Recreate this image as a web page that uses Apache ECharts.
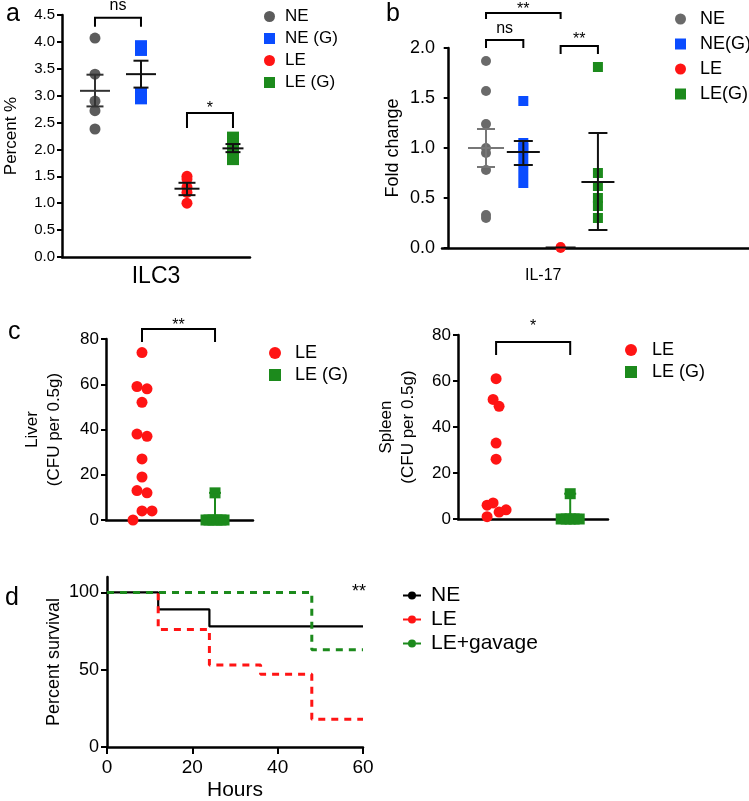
<!DOCTYPE html>
<html>
<head>
<meta charset="utf-8">
<script src="https://cdn.jsdelivr.net/npm/echarts@6/dist/echarts.min.js"></script>
<style>
  html, body { margin: 0; padding: 0; background: #fff; }
  #chart { width: 749px; height: 801px; }
</style>
</head>
<body>
<div id="chart"></div>
<script>
// ---- panel a: ILC3 (percent) ----
const ilcNE = [4.07, 3.4, 2.9, 2.72, 2.38]
const ilcNEG = [3.92, 3.85, 3.05, 2.95]
const ilcLE = [1.5, 1.45, 1.3, 1.2, 1.0]
const ilcLEG = [2.22, 2.1, 2.0, 1.95, 1.82]
const ilcMean = [3.09, 3.4, 1.27, 2.02]
const ilcLow = [2.8, 3.15, 1.15, 1.95]
const ilcHigh = [3.39, 3.65, 1.38, 2.1]
const ilcSig = [[1, 2, 4.45, 'ns'], [3, 4, 2.68, '*']]

// ---- panel b: IL-17 (fold change) ----
const il17NE = [1.87, 1.57, 1.24, 1.0, 0.95, 0.78, 0.33, 0.3]
const il17NEG = [1.47, 1.05, 1.0, 0.95, 0.85, 0.75, 0.65]
const il17LE = [0.01, 0.0]
const il17LEG = [1.81, 0.75, 0.62, 0.5, 0.42, 0.3]
const il17Mean = [1.0, 0.96, 0.005, 0.66]
const il17Low = [0.81, 0.83, 0.0, 0.18]
const il17High = [1.19, 1.07, 0.01, 1.15]
const il17Sig = [[1, 3, 2.35, '**'], [1, 2, 2.08, 'ns'], [3, 4, 2.02, '**']]

// ---- panel c: CFU per 0.5g ----
const liverLE = [74, 59, 58, 52, 38, 37, 27, 19, 13, 12, 4, 4, 0]
const liverLEG = [12, 0, 0, 0, 0, 0, 0]
const liverLEGMean = 1.7
const liverLEGHigh = 12
const liverSig = [[1, 2, 84.4, '**']]
const spleenLE = [61, 52, 49, 33, 26, 7, 6, 4, 3, 1]
const spleenLEG = [11, 0, 0, 0, 0, 0]
const spleenLEGMean = 1.8
const spleenLEGHigh = 11
const spleenSig = [[1, 2, 77, '*']]

// ---- panel d: survival ----
const hoursNE = [0, 12, 24, 60]
const survNE = [100, 89, 78, 78]
const hoursLE = [0, 12, 24, 36, 48, 60]
const survLE = [100, 76, 53, 47, 18, 18]
const hoursGav = [0, 48, 60]
const survGav = [100, 63, 63]

// jitter of dots (px), only layout
const liverJit = [0, -5, 5, 0, -5, 5, 0, 0, -5, 5, 0, 10, -9]
const liverGJit = [0, -9, -6, -2, 2, 6, 9]
const spleenJit = [0, -3, 3, 0, 0, -3, -9, 10, 3, -9]
const spleenGJit = [0, -9, -4, 0, 4, 9]

const font = 'Liberation Sans, Arial, Helvetica, sans-serif'
const grey = '#5c5c5c'
const blue = '#0a4cff'
const red = '#ff1414'
const green = '#1c8a1c'

const grids = [
  { left: 62, top: 15, width: 188, height: 242, outerBoundsMode: 'none' },
  { left: 442, top: 48, width: 307, height: 200, outerBoundsMode: 'none' },
  { left: 106, top: 339, width: 147, height: 181, outerBoundsMode: 'none' },
  { left: 458, top: 335, width: 150, height: 184, outerBoundsMode: 'none' },
  { left: 107, top: 577, width: 256, height: 170, outerBoundsMode: 'none' }
]
const xRange = [[0.283, 4.37], [-0.18, 8.05], [0.507, 2.52], [0.486, 2.51]]
const pxPerUnit = i => grids[i].width / (xRange[i][1] - xRange[i][0])

const axisLine = { lineStyle: { color: '#000', width: 2.5 } }

function catX(i, name, fontSize, gap) {
  return {
    gridIndex: i, type: 'value', min: xRange[i][0], max: xRange[i][1],
    axisLine: axisLine, axisTick: { show: false }, axisLabel: { show: false },
    splitLine: { show: false },
    name: name, nameLocation: 'middle', nameGap: gap,
    nameTextStyle: { fontFamily: font, fontSize: fontSize, color: '#000' }
  }
}

function valY(i, max, interval, fontSize, name, nameSize, gap, dec) {
  return {
    gridIndex: i, type: 'value', min: 0, max: max, interval: interval,
    axisLine: axisLine,
    axisTick: { show: true, length: 5, lineStyle: { color: '#000', width: 2 } },
    axisLabel: {
      margin: 7, color: '#000', fontFamily: font, fontSize: fontSize,
      formatter: v => dec ? v.toFixed(1) : String(v)
    },
    splitLine: { show: false },
    name: name, nameLocation: 'middle', nameGap: gap,
    nameTextStyle: { fontFamily: font, fontSize: nameSize, color: '#000', lineHeight: 22 }
  }
}

function dots(i, name, group, values, jit, symbol, size, color) {
  return {
    name: name, type: 'scatter', xAxisIndex: i, yAxisIndex: i,
    symbol: symbol, symbolSize: size, itemStyle: { color: color, opacity: 1 },
    data: values.map((v, k) => [group + (jit ? jit[k] : 0) / pxPerUnit(i), v]),
    z: 3
  }
}

function errorBars(i, means, lows, highs, meanW, capW, colors) {
  return {
    type: 'custom', xAxisIndex: i, yAxisIndex: i, silent: true, z: 5,
    encode: { x: 0, y: [1, 2, 3] },
    data: means.map((m, k) => [k + 1, m, lows[k], highs[k]]),
    renderItem: (params, api) => {
      const k = params.dataIndex
      const x = api.value(0)
      const pm = api.coord([x, api.value(1)])
      const pl = api.coord([x, api.value(2)])
      const ph = api.coord([x, api.value(3)])
      const st = { stroke: colors[k], lineWidth: 2 }
      const hw = meanW[k] / 2
      const cw = capW[k] / 2
      return {
        type: 'group',
        children: [
          { type: 'line', shape: { x1: pm[0] - hw, y1: pm[1], x2: pm[0] + hw, y2: pm[1] }, style: st },
          { type: 'line', shape: { x1: ph[0], y1: ph[1], x2: pl[0], y2: pl[1] }, style: st },
          { type: 'line', shape: { x1: ph[0] - cw, y1: ph[1], x2: ph[0] + cw, y2: ph[1] }, style: st },
          { type: 'line', shape: { x1: pl[0] - cw, y1: pl[1], x2: pl[0] + cw, y2: pl[1] }, style: st }
        ]
      }
    }
  }
}

function brackets(i, items, drops, lifts, fontSize) {
  return {
    type: 'custom', xAxisIndex: i, yAxisIndex: i, silent: true, z: 6,
    encode: { x: [0, 1], y: 2 },
    data: items.map(b => [b[0], b[1], b[2]]),
    renderItem: (params, api) => {
      const k = params.dataIndex
      const p1 = api.coord([api.value(0), api.value(2)])
      const p2 = api.coord([api.value(1), api.value(2)])
      const d = drops[k]
      return {
        type: 'group',
        children: [
          {
            type: 'polyline',
            shape: { points: [[p1[0], p1[1] + d], [p1[0], p1[1]], [p2[0], p2[1]], [p2[0], p2[1] + d]] },
            style: { stroke: '#000', lineWidth: 2, fill: null }
          },
          {
            type: 'text', x: (p1[0] + p2[0]) / 2, y: p1[1] - lifts[k],
            style: { text: items[k][3], fontFamily: font, fontSize: fontSize, fill: '#000', align: 'center', verticalAlign: 'middle' }
          }
        ]
      }
    }
  }
}

function stepLine(name, hours, surv, color, type, width) {
  return {
    name: name, type: 'line', xAxisIndex: 4, yAxisIndex: 4, step: 'end',
    symbol: 'none', lineStyle: { color: color, type: type, width: width },
    itemStyle: { color: color },
    data: hours.map((h, k) => [h, surv[k]])
  }
}

function legendAt(left, top, gap, fontSize, icon, pad, names) {
  return {
    orient: 'vertical', left: left, top: top, itemGap: gap,
    itemWidth: icon, itemHeight: icon, selectedMode: false,
    formatter: n => n.split('|')[1],
    textStyle: { fontFamily: font, fontSize: fontSize, color: '#000', padding: [0, 0, 0, pad] },
    data: names
  }
}

const option = {
  animation: false,
  backgroundColor: '#fff',
  grid: grids,
  xAxis: [
    catX(0, 'ILC3', 23, 8),
    catX(1, '', 16, 20),
    catX(2, '', 16, 20),
    catX(3, '', 16, 20),
    {
      gridIndex: 4, type: 'value', min: 0, max: 60, interval: 20,
      axisLine: axisLine,
      axisTick: { show: true, length: 7, lineStyle: { color: '#000', width: 2 } },
      axisLabel: { margin: 11, color: '#000', fontFamily: font, fontSize: 19 },
      splitLine: { show: false },
      name: 'Hours', nameLocation: 'middle', nameGap: 33,
      nameTextStyle: { fontFamily: font, fontSize: 21, color: '#000' }
    }
  ],
  yAxis: [
    valY(0, 4.5, 0.5, 15, 'Percent %', 17, 40, true),
    valY(1, 2, 0.5, 18, 'Fold change', 18, 38, true),
    valY(2, 80, 20, 17, 'Liver\n(CFU per 0.5g)', 17, 41, false),
    valY(3, 80, 20, 17, 'Spleen\n(CFU per 0.5g)', 17, 39, false),
    Object.assign(valY(4, 110, 50, 18, 'Percent survival', 18, 35, false), {
      axisTick: { show: true, length: 6, customValues: [0, 50, 100], lineStyle: { color: '#000', width: 2 } },
      axisLabel: { margin: 8, color: '#000', fontFamily: font, fontSize: 18, customValues: [0, 50, 100] }
    })
  ],
  legend: [
    legendAt(259, 3, 5, 17, 11, 5, [
      { name: 'a|NE', icon: 'circle' }, { name: 'a|NE (G)', icon: 'rect' },
      { name: 'a|LE', icon: 'circle' }, { name: 'a|LE (G)', icon: 'rect' }
    ]),
    legendAt(670, 5, 7, 18, 11, 9, [
      { name: 'b|NE', icon: 'circle' }, { name: 'b|NE(G)', icon: 'rect' },
      { name: 'b|LE', icon: 'circle' }, { name: 'b|LE(G)', icon: 'rect' }
    ]),
    legendAt(264, 339, 4, 18, 12, 9, [
      { name: 'c|LE', icon: 'circle' }, { name: 'c|LE (G)', icon: 'rect' }
    ]),
    legendAt(620, 336, 4, 18, 12, 10, [
      { name: 's|LE', icon: 'circle' }, { name: 's|LE (G)', icon: 'rect' }
    ]),
    Object.assign(legendAt(397, 580, 3, 21, 10, 5, ['d|NE', 'd|LE', 'd|LE+gavage']), {
      itemWidth: 18
    })
  ],
  graphic: [
    { type: 'text', left: 6, top: 2, style: { text: 'a', fontFamily: font, fontSize: 25, fill: '#000' } },
    { type: 'text', left: 386, top: 2, style: { text: 'b', fontFamily: font, fontSize: 25, fill: '#000' } },
    { type: 'text', left: 8, top: 320, style: { text: 'c', fontFamily: font, fontSize: 25, fill: '#000' } },
    { type: 'text', left: 5, top: 586, style: { text: 'd', fontFamily: font, fontSize: 25, fill: '#000' } },
    { type: 'text', left: 525, top: 268, style: { text: 'IL-17', fontFamily: font, fontSize: 16, fill: '#000' } },
    { type: 'text', left: 352, top: 583, style: { text: '**', fontFamily: font, fontSize: 18, fill: '#000' } }
  ],
  series: [
    // a
    dots(0, 'a|NE', 1, ilcNE, null, 'circle', 11, grey),
    dots(0, 'a|NE (G)', 2, ilcNEG, null, 'rect', 12, blue),
    dots(0, 'a|LE', 3, ilcLE, null, 'circle', 11, red),
    dots(0, 'a|LE (G)', 4, ilcLEG, null, 'rect', 12, green),
    errorBars(0, ilcMean, ilcLow, ilcHigh, [30, 30, 25, 21], [17, 15, 17, 15], ['#333', '#111', '#111', '#111']),
    brackets(0, ilcSig, [9, 15], [12, 4], 16),
    // b
    dots(1, 'b|NE', 1, il17NE, null, 'circle', 10, '#6a6a6a'),
    dots(1, 'b|NE(G)', 2, il17NEG, null, 'rect', 10, blue),
    dots(1, 'b|LE', 3, il17LE, null, 'circle', 10, red),
    dots(1, 'b|LE(G)', 4, il17LEG, null, 'rect', 10, green),
    errorBars(1, il17Mean, il17Low, il17High, [36, 33, 30, 33], [18, 19, 0, 19], ['#777', '#111', '#111', '#111']),
    brackets(1, il17Sig, [6, 8, 8], [3, 11, 6], 16),
    // c liver
    dots(2, 'c|LE', 1, liverLE, liverJit, 'circle', 11, red),
    dots(2, 'c|LE (G)', 2, liverLEG, liverGJit, 'rect', 11, green),
    errorBars(2, [0, liverLEGMean], [0, liverLEGMean], [0, liverLEGHigh], [0, 24], [0, 12], ['rgba(0,0,0,0)', green]),
    brackets(2, liverSig, [13], [3], 16),
    // c spleen
    dots(3, 's|LE', 1, spleenLE, spleenJit, 'circle', 11, red),
    dots(3, 's|LE (G)', 2, spleenLEG, spleenGJit, 'rect', 11, green),
    errorBars(3, [0, spleenLEGMean], [0, spleenLEGMean], [0, spleenLEGHigh], [0, 24], [0, 12], ['rgba(0,0,0,0)', green]),
    brackets(3, spleenSig, [13], [15], 16),
    // d
    stepLine('d|NE', hoursNE, survNE, '#000', 'solid', 2.2),
    stepLine('d|LE', hoursLE, survLE, red, [7, 6], 3),
    stepLine('d|LE+gavage', hoursGav, survGav, green, [7, 6], 3)
  ]
}

const chart = echarts.init(document.getElementById('chart'))
chart.setOption(option)
</script>
</body>
</html>
